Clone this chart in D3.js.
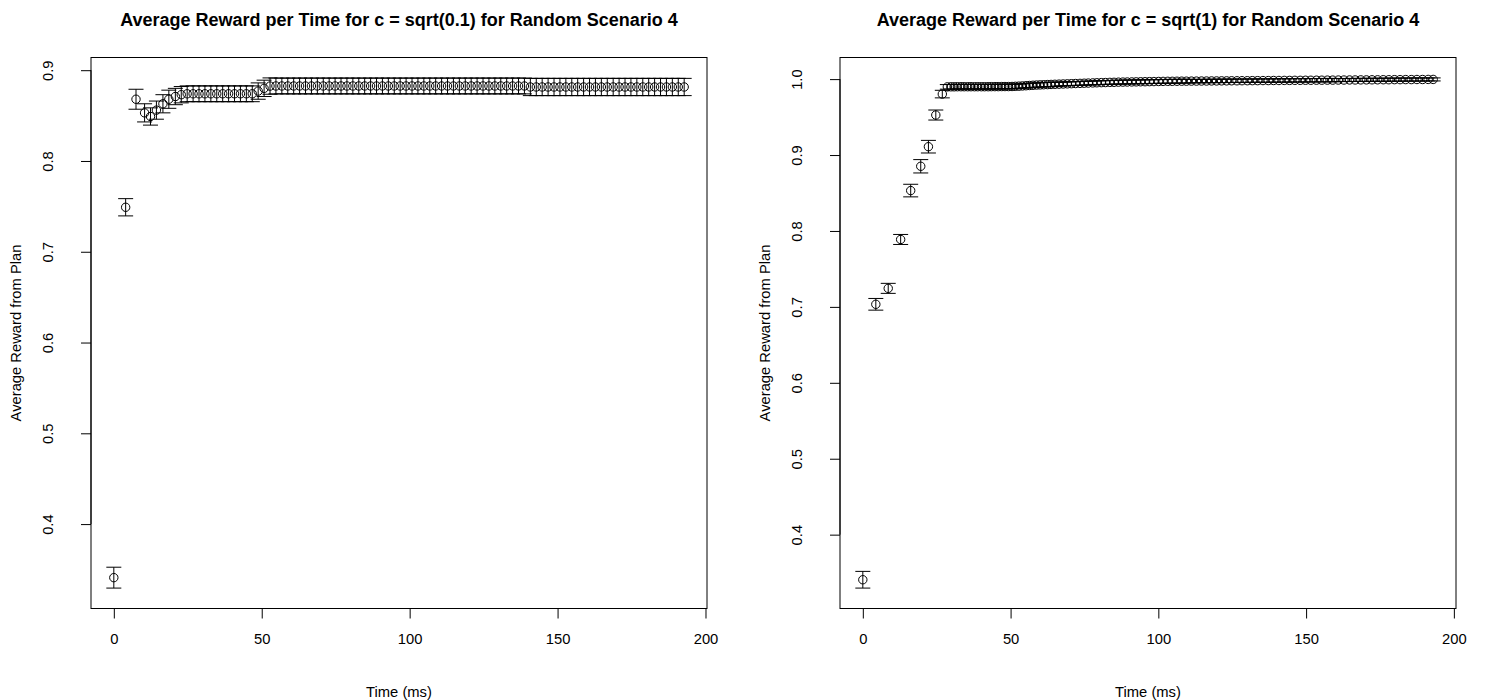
<!DOCTYPE html>
<html>
<head>
<meta charset="utf-8">
<script src="https://cdn.jsdelivr.net/npm/d3@7"></script>
<style>
  html, body { margin: 0; padding: 0; background: #fff; }
  svg { display: block; }
  text { font-family: "Liberation Sans", Arial, Helvetica, sans-serif; fill: #000; }
</style>
</head>
<body>
<svg id="chart" width="1488" height="700"></svg>
<script>
// ---- c = sqrt(0.1) ----
const timeLeft = [
  0, 4.0, 7.5, 10.4, 12.4, 14.4, 16.6, 18.6, 20.8, 22.8,
  24.8, 26.8, 28.8, 30.8, 32.8, 34.8, 36.8, 38.8, 40.8, 42.8,
  44.8, 46.8, 48.8, 50.8, 52.8, 54.8, 56.8, 58.8, 60.8, 62.8,
  64.8, 66.8, 68.8, 70.8, 72.8, 74.8, 76.8, 78.8, 80.8, 82.8,
  84.8, 86.8, 88.8, 90.8, 92.8, 94.8, 96.8, 98.8, 100.8, 102.8,
  104.8, 106.8, 108.8, 110.8, 112.8, 114.8, 116.8, 118.8, 120.8, 122.8,
  124.8, 126.8, 128.8, 130.8, 132.8, 134.8, 136.8, 138.8, 140.8, 142.8,
  144.8, 146.8, 148.8, 150.8, 152.8, 154.8, 156.8, 158.8, 160.8, 162.8,
  164.8, 166.8, 168.8, 170.8, 172.8, 174.8, 176.8, 178.8, 180.8, 182.8,
  184.8, 186.8, 188.8, 190.8, 192.8
];
const rewardLeft = [
  0.341, 0.749, 0.868, 0.853, 0.849, 0.856, 0.863, 0.868, 0.871, 0.873,
  0.874, 0.874, 0.874, 0.874, 0.874, 0.874, 0.874, 0.874, 0.874, 0.874,
  0.874, 0.874, 0.877, 0.880, 0.8825, 0.8826, 0.8826, 0.8826, 0.8826, 0.8826,
  0.8826, 0.8826, 0.8826, 0.8826, 0.8826, 0.8826, 0.8826, 0.8826, 0.8826, 0.8826,
  0.8826, 0.8826, 0.8826, 0.8826, 0.8826, 0.8826, 0.8826, 0.8826, 0.8826, 0.8826,
  0.8826, 0.8826, 0.8826, 0.8826, 0.8826, 0.8826, 0.8826, 0.8826, 0.8826, 0.8826,
  0.8826, 0.8826, 0.8826, 0.8826, 0.8826, 0.8826, 0.8826, 0.8826, 0.8815, 0.8815,
  0.8815, 0.8815, 0.8815, 0.8815, 0.8815, 0.8815, 0.8815, 0.8815, 0.8815, 0.8815,
  0.8815, 0.8815, 0.8815, 0.8815, 0.8815, 0.8815, 0.8815, 0.8815, 0.8815, 0.8815,
  0.8815, 0.8815, 0.8815, 0.8815, 0.8815
];
const errLeft = [
  0.0115, 0.0095, 0.011, 0.010, 0.0095, 0.010, 0.010, 0.010, 0.009, 0.009,
  0.0087, 0.0087, 0.0087, 0.0087, 0.0087, 0.0087, 0.0087, 0.0087, 0.0087, 0.0087,
  0.0087, 0.0087, 0.009, 0.009, 0.009, 0.0087, 0.0087, 0.0087, 0.0087, 0.0087,
  0.0087, 0.0087, 0.0087, 0.0087, 0.0087, 0.0087, 0.0087, 0.0087, 0.0087, 0.0087,
  0.0087, 0.0087, 0.0087, 0.0087, 0.0087, 0.0087, 0.0087, 0.0087, 0.0087, 0.0087,
  0.0087, 0.0087, 0.0087, 0.0087, 0.0087, 0.0087, 0.0087, 0.0087, 0.0087, 0.0087,
  0.0087, 0.0087, 0.0087, 0.0087, 0.0087, 0.0087, 0.0087, 0.0087, 0.0095, 0.0095,
  0.0095, 0.0095, 0.0095, 0.0095, 0.0095, 0.0095, 0.0095, 0.0095, 0.0095, 0.0095,
  0.0095, 0.0095, 0.0095, 0.0095, 0.0095, 0.0095, 0.0095, 0.0095, 0.0095, 0.0095,
  0.0095, 0.0095, 0.0095, 0.0095, 0.0095
];

// ---- c = sqrt(1) ----
const timeRight = [
  0, 4.4, 8.6, 12.8, 16.2, 19.6, 22.2, 24.7, 26.9,
  28.6, 29.8, 30.9, 32.0, 33.2, 34.3, 35.5, 36.6, 37.8, 38.9,
  40.1, 41.2, 42.4, 43.5, 44.7, 45.8, 47.0, 48.1, 49.3, 50.5,
  51.6, 52.8, 54.0, 55.2, 56.4, 57.6, 58.8, 60.0, 61.2, 62.5,
  63.7, 65.0,
  66.4, 67.8, 69.2, 70.6, 72.0, 73.5, 74.9, 76.3, 77.8, 79.2,
  80.7, 82.1, 83.6, 85.0, 86.5, 88.0, 89.5, 91.0, 92.5, 94.0,
  95.5, 97.0, 98.5, 100.1, 101.6, 103.2, 104.7, 106.3, 107.9, 109.5,
  111.2, 112.9, 114.6, 116.3, 118.0, 119.7, 121.4, 123.1, 124.8, 126.6,
  128.3, 130.1, 131.8, 133.6, 135.4, 137.2, 139.0, 140.8, 142.6, 144.4,
  146.2, 148.0, 149.8, 151.6, 153.5, 155.3, 157.2, 159.0,
  160.9, 162.8, 164.7, 166.6, 168.5, 170.4, 172.3, 174.2, 176.1, 178.0,
  179.9, 181.8, 183.7, 185.6, 187.5, 189.4, 191.3, 193.0
];
const rewardRight = [
  0.3406, 0.7034, 0.7244, 0.7888, 0.8532, 0.8852, 0.911, 0.9527, 0.9803,
  0.9898, 0.9899, 0.9899, 0.9900, 0.9900, 0.9900, 0.9900, 0.9900, 0.9900, 0.9900,
  0.9900, 0.9900, 0.9900, 0.9901, 0.9901, 0.9901, 0.9902, 0.9902, 0.9902, 0.9903,
  0.9905, 0.9907, 0.9910, 0.9913, 0.9916, 0.9919, 0.9922, 0.9924, 0.9926, 0.9928,
  0.9930, 0.9932,
  0.9934, 0.9936, 0.9938, 0.9940, 0.9942, 0.9944, 0.9946, 0.9948, 0.9950, 0.9952,
  0.9954, 0.9955, 0.9957, 0.9958, 0.9960, 0.9961, 0.9962, 0.9963, 0.9964, 0.9965,
  0.9966, 0.9967, 0.9968, 0.9969, 0.9970, 0.9971, 0.9971, 0.9972, 0.9973, 0.9973,
  0.9974, 0.9974, 0.9975, 0.9975, 0.9976, 0.9976, 0.9977, 0.9977, 0.9978, 0.9978,
  0.9979, 0.9979, 0.9980, 0.9980, 0.9981, 0.9981, 0.9982, 0.9982, 0.9983, 0.9983,
  0.9984, 0.9984, 0.9985, 0.9985, 0.9986, 0.9986, 0.9987, 0.9987,
  0.9988, 0.9988, 0.9989, 0.9989, 0.9990, 0.9990, 0.9991, 0.9991, 0.9992, 0.9992,
  0.9993, 0.9993, 0.9994, 0.9994, 0.9995, 0.9995, 0.9996, 0.9996
];
const errRight = [
  0.011, 0.0077, 0.0066, 0.0066, 0.0083, 0.0088, 0.0083, 0.0066, 0.005,
  0.003, 0.003, 0.003, 0.003, 0.003, 0.003, 0.003, 0.003, 0.003, 0.003,
  0.003, 0.003, 0.003, 0.003, 0.003, 0.003, 0.003, 0.003, 0.003, 0.003,
  0.0028, 0.0028, 0.0028, 0.0028, 0.0028, 0.0028, 0.0028, 0.0028, 0.0028, 0.0028,
  0.0028, 0.0028,
  0.0025, 0.0025, 0.0025, 0.0025, 0.0025, 0.0025, 0.0025, 0.0025, 0.0025, 0.0025,
  0.0025, 0.0025, 0.0025, 0.0025, 0.0025, 0.0025, 0.0025, 0.0025, 0.0025, 0.0025,
  0.0025, 0.0025, 0.0025, 0.0025, 0.0025, 0.0025, 0.0025, 0.0025, 0.0025, 0.0025,
  0.0022, 0.0022, 0.0022, 0.0022, 0.0022, 0.0022, 0.0022, 0.0022, 0.0022, 0.0022,
  0.0022, 0.0022, 0.0022, 0.0022, 0.0022, 0.0022, 0.0022, 0.0022, 0.0022, 0.0022,
  0.0022, 0.0022, 0.0022, 0.0022, 0.0022, 0.0022, 0.0022, 0.0022,
  0.002, 0.002, 0.002, 0.002, 0.002, 0.002, 0.002, 0.002, 0.002, 0.002,
  0.002, 0.002, 0.002, 0.002, 0.002, 0.002, 0.002, 0.002
];

const xTicks = [0, 50, 100, 150, 200];
const yTicksLeft = [0.4, 0.5, 0.6, 0.7, 0.8, 0.9];
const yTicksRight = [0.4, 0.5, 0.6, 0.7, 0.8, 0.9, 1.0];

const titles = [
  "Average Reward per Time for c = sqrt(0.1) for Random Scenario 4",
  "Average Reward per Time for c = sqrt(1) for Random Scenario 4"
];
const xLabel = "Time (ms)";
const yLabel = "Average Reward from Plan";

const BASE_FONT = 14.75;
const TITLE_FONT = 18;

const svg = d3.select("#chart");

// extend a range by 4% on each side, like R's default axis style
function padded(lo, hi) {
  const d = (hi - lo) * 0.04;
  return [lo - d, hi + d];
}

function panel(opts) {
  const { left, right, top, bottom, time, reward, err, yTicks, title } = opts;
  const g = svg.append("g");
  const pts = time.map((t, i) => ({ t, v: reward[i], e: err[i] }));

  const x = d3.scaleLinear()
    .domain(padded(d3.min(time), d3.max(time)))
    .range([left, right]);
  const y = d3.scaleLinear()
    .domain(padded(d3.min(pts, d => d.v - d.e), d3.max(pts, d => d.v + d.e)))
    .range([bottom, top]);

  // plot frame
  g.append("rect")
    .attr("x", left).attr("y", top)
    .attr("width", right - left).attr("height", bottom - top)
    .attr("fill", "none").attr("stroke", "#000").attr("stroke-width", 1);

  // x axis
  const xa = g.append("g")
    .attr("transform", `translate(0,${bottom})`)
    .call(d3.axisBottom(x).tickValues(xTicks).tickSize(10).tickSizeOuter(0).tickFormat(d3.format("d")));
  xa.select(".domain").attr("d", `M${x(xTicks[0])},0H${x(xTicks[xTicks.length - 1])}`);
  xa.selectAll("text").attr("dy", null).attr("y", 32).attr("dominant-baseline", "middle")
    .style("font-size", BASE_FONT + "px").style("font-family", "'Liberation Sans', Arial, sans-serif");

  // y axis
  const ya = g.append("g")
    .attr("transform", `translate(${left},0)`)
    .call(d3.axisLeft(y).tickValues(yTicks).tickSize(10).tickSizeOuter(0).tickFormat(d3.format(".1f")));
  ya.select(".domain").attr("d", `M0,${y(yTicks[0])}V${y(yTicks[yTicks.length - 1])}`);
  ya.selectAll("text")
    .attr("x", null).attr("dy", null)
    .attr("text-anchor", "middle").attr("dominant-baseline", "middle")
    .attr("transform", "translate(-42,0) rotate(-90)")
    .style("font-size", BASE_FONT + "px").style("font-family", "'Liberation Sans', Arial, sans-serif");
  g.selectAll(".tick line, .domain").attr("stroke", "#000");

  // error bars
  const cap = 7.5;
  const eb = g.append("g").attr("stroke", "#000").attr("stroke-width", 1).attr("fill", "none");
  eb.selectAll("path.bar").data(pts).join("path")
    .attr("class", "bar")
    .attr("d", d => {
      const cx = x(d.t), y0 = y(d.v - d.e), y1 = y(d.v + d.e);
      return `M${cx},${y0}V${y1}M${cx - cap},${y1}H${cx + cap}M${cx - cap},${y0}H${cx + cap}`;
    });

  // points (open circles)
  g.append("g").selectAll("circle").data(pts).join("circle")
    .attr("cx", d => x(d.t)).attr("cy", d => y(d.v)).attr("r", 4.2)
    .attr("fill", "none").attr("stroke", "#000").attr("stroke-width", 1);

  // titles
  const cxMid = (left + right) / 2;
  g.append("text").attr("x", cxMid).attr("y", 21)
    .attr("text-anchor", "middle").attr("dominant-baseline", "middle")
    .style("font-size", TITLE_FONT + "px").style("font-weight", "bold").text(title);
  g.append("text").attr("x", cxMid).attr("y", bottom + 85)
    .attr("text-anchor", "middle").attr("dominant-baseline", "middle")
    .style("font-size", BASE_FONT + "px").text(xLabel);
  g.append("text")
    .attr("transform", `translate(${left - 74},${(top + bottom) / 2}) rotate(-90)`)
    .attr("text-anchor", "middle").attr("dominant-baseline", "middle")
    .style("font-size", BASE_FONT + "px").text(yLabel);
}

panel({ left: 91, right: 707, top: 57.5, bottom: 608.5,
        time: timeLeft, reward: rewardLeft, err: errLeft, yTicks: yTicksLeft, title: titles[0] });
panel({ left: 840, right: 1456, top: 57.5, bottom: 608.5,
        time: timeRight, reward: rewardRight, err: errRight, yTicks: yTicksRight, title: titles[1] });
</script>
</body>
</html>
